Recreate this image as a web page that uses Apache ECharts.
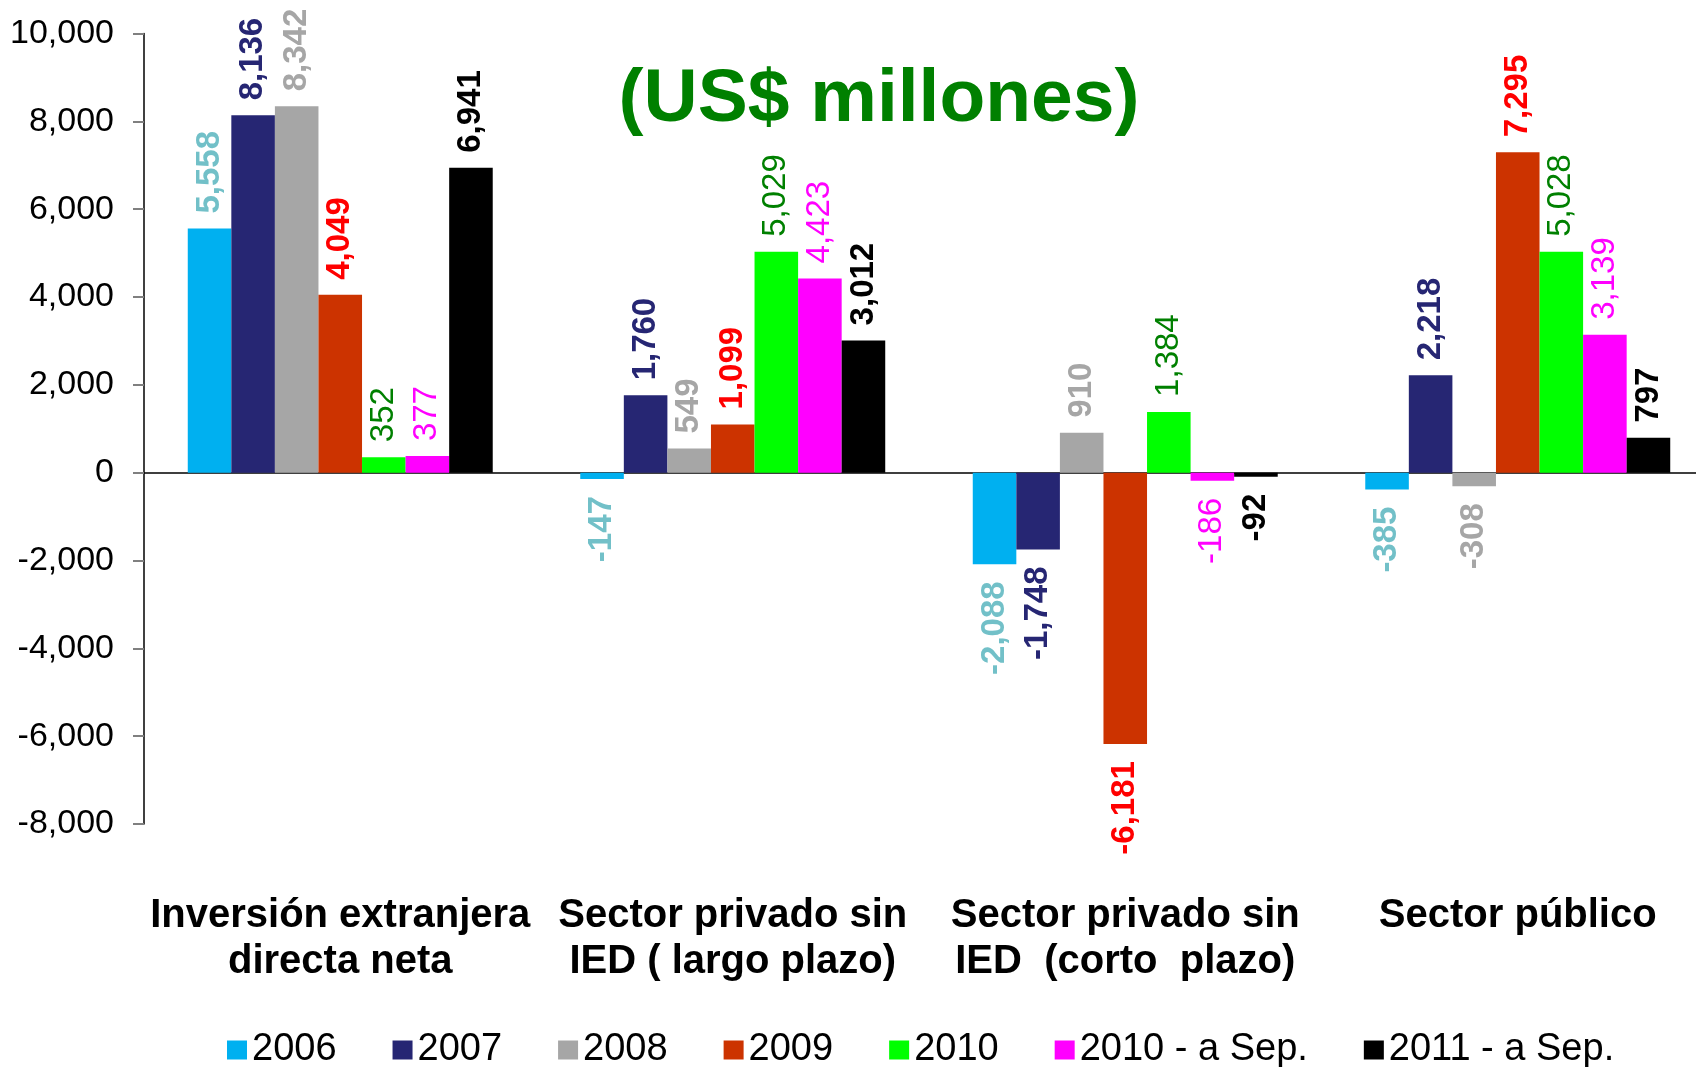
<!DOCTYPE html>
<html>
<head>
<meta charset="utf-8">
<script src="https://cdn.jsdelivr.net/npm/echarts@6/dist/echarts.min.js"></script>
<style>
  html, body { margin: 0; padding: 0; background: #fff; overflow: hidden; }
  #main { width: 1714px; height: 1067px; }
</style>
</head>
<body>
<div id="main"></div>
<script>
// categorias del eje X
const categories = [
  'Inversión extranjera\ndirecta neta',
  'Sector privado sin\nIED ( largo plazo)',
  'Sector privado sin\nIED  (corto  plazo)',
  'Sector público'
];

// valores por periodo (US$ millones)
const v2006 = [5558, -147, -2088, -385];
const v2007 = [8136, 1760, -1748, 2218];
const v2008 = [8342, 549, 910, -308];
const v2009 = [4049, 1099, -6181, 7295];
const v2010 = [352, 5029, 1384, 5028];
const v2010Sep = [377, 4423, -186, 3139];
const v2011Sep = [6941, 3012, -92, 797];

const yTicks = { min: -8000, max: 10000, interval: 2000 };

const seriesDefs = [
  { name: '2006', data: v2006, color: '#00B0F0', labelColor: '#72C0C8', bold: true },
  { name: '2007', data: v2007, color: '#262673', labelColor: '#262673', bold: true },
  { name: '2008', data: v2008, color: '#A6A6A6', labelColor: '#A6A6A6', bold: true },
  { name: '2009', data: v2009, color: '#CC3300', labelColor: '#FF0000', bold: true },
  { name: '2010', data: v2010, color: '#00FF00', labelColor: '#008000', bold: false },
  { name: '2010 - a Sep.', data: v2010Sep, color: '#FF00FF', labelColor: '#FF00FF', bold: false },
  { name: '2011 - a Sep.', data: v2011Sep, color: '#000000', labelColor: '#000000', bold: true }
];

const fmt = v => Number(v).toLocaleString('en-US');
const FONT = '"Liberation Sans", Arial, sans-serif';

// el contenedor es un poco más ancho que la ventana: el eje sigue fuera del borde derecho
const chart = echarts.init(document.getElementById('main'));

const series = seriesDefs.map(s => ({
  name: s.name,
  type: 'bar',
  barGap: '0%',
  barCategoryGap: '22.3%',
  itemStyle: { color: s.color },
  label: {
    show: true,
    position: 'top',
    rotate: 90,
    align: 'left',
    verticalAlign: 'middle',
    distance: 15,
    fontSize: 33,
    fontFamily: FONT,
    fontWeight: s.bold ? 'bold' : 'normal',
    color: s.labelColor,
    formatter: p => fmt(p.value)
  },
  data: s.data.map(v => v < 0
    ? { value: v, label: { position: 'bottom', align: 'right', distance: 17 } }
    : v)
}));

const option = {
  animation: false,
  backgroundColor: '#ffffff',
  title: {
    text: '(US$ millones)',
    left: 874,
    top: 58,
    textAlign: 'center',
    textStyle: {
      color: '#008000',
      fontSize: 75,
      fontWeight: 'bold',
      fontFamily: FONT
    }
  },
  legend: {
    left: 222,
    top: 1026,
    itemWidth: 20,
    itemHeight: 19,
    itemGap: 56,
    icon: 'rect',
    textStyle: { fontSize: 38, fontFamily: FONT, color: '#000' },
    data: seriesDefs.map(s => s.name)
  },
  grid: {
    left: 144,
    right: 0,
    top: 33.5,
    bottom: 243,
    containLabel: false
  },
  xAxis: [
    {
      type: 'category',
      data: categories,
      position: 'bottom',
      axisLine: { show: false, onZero: false },
      axisTick: { show: false },
      axisLabel: {
        interval: 0,
        margin: 69,
        fontSize: 40,
        fontWeight: 'bold',
        lineHeight: 46,
        color: '#000',
        fontFamily: FONT
      }
    },
    {
      type: 'category',
      data: categories,
      position: 'top',
      axisLine: { show: true, onZero: true, lineStyle: { color: '#000', width: 1.5 } },
      axisTick: { show: false },
      axisLabel: { show: false }
    }
  ],
  yAxis: {
    type: 'value',
    min: yTicks.min,
    max: yTicks.max,
    interval: yTicks.interval,
    axisLine: { show: true, lineStyle: { color: '#000', width: 1.5 } },
    axisTick: { show: true, inside: false, length: 11, lineStyle: { color: '#808080', width: 2 } },
    splitLine: { show: false },
    axisLabel: {
      margin: 30,
      fontSize: 34,
      color: '#000',
      fontFamily: FONT,
      formatter: v => fmt(v)
    }
  },
  series: series
};

chart.setOption(option);
</script>
</body>
</html>
